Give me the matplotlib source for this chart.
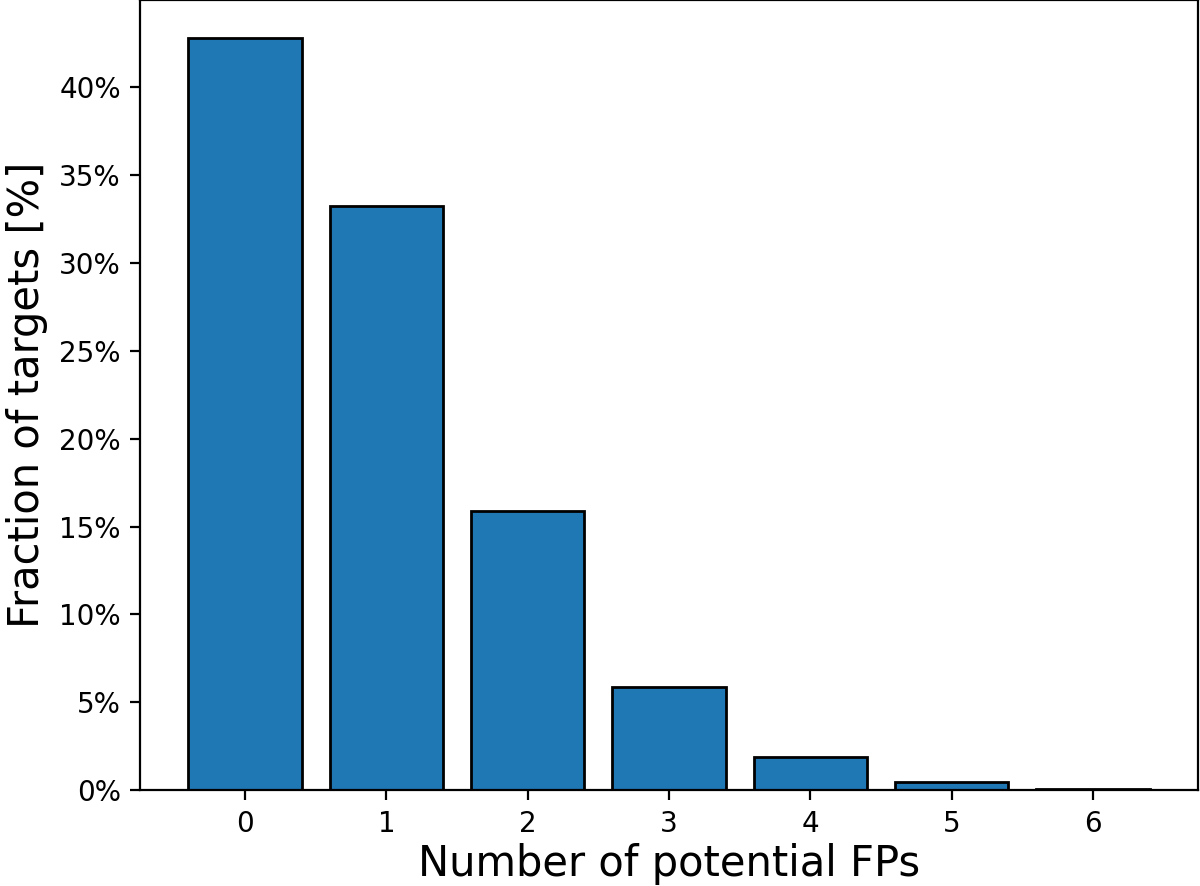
import matplotlib
matplotlib.use("Agg")
import matplotlib.pyplot as plt
from matplotlib.ticker import PercentFormatter

n_fps = [0, 1, 2, 3, 4, 5, 6]
fraction = [42.8, 33.2, 15.9, 5.86, 1.88, 0.46, 0.06]

fig, ax = plt.subplots(figsize=(6, 4.43), dpi=200)
ax.bar(n_fps, fraction, color='#1f77b4', edgecolor='black', linewidth=1)
ax.yaxis.set_major_formatter(PercentFormatter(decimals=0))
ax.set_xticks(n_fps)
ax.set_xlabel('Number of potential FPs', fontsize=15, labelpad=2)
ax.set_ylabel('Fraction of targets [%]', fontsize=15)
fig.subplots_adjust(left=0.117, right=0.998, top=1.0, bottom=0.108)
fig.savefig('out.png')
